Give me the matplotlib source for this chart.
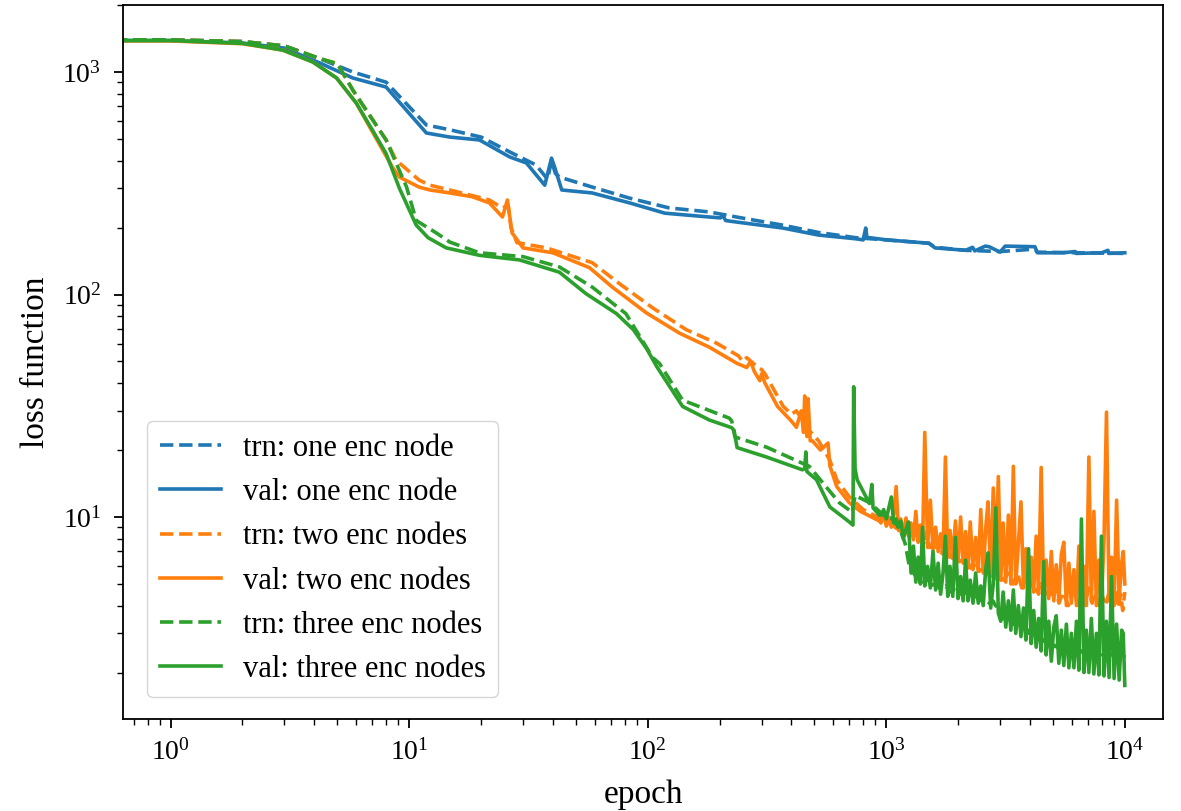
import numpy as np
import matplotlib
matplotlib.use("Agg")
import matplotlib.pyplot as plt

plt.rcParams['font.family'] = ['Liberation Serif', 'DejaVu Serif']
plt.rcParams['mathtext.fontset'] = 'custom'
plt.rcParams['mathtext.rm'] = 'Liberation Serif'
plt.rcParams['mathtext.it'] = 'Liberation Serif:italic'

# ---- loss curves, one enc node ----
ep_one_val = [0, 1, 2, 3, 4.2, 5.8, 8.0, 11.8, 14.8, 19.7, 26.4, 31, 37, 39.5, 40.7, 43.6,
              58.5, 84, 118, 181, 202, 206, 212, 241, 368, 520, 745, 800, 820, 830, 855,
              1000, 1510, 1600, 2150, 2300, 2350, 2600, 2700, 3000, 3150, 4200, 4300,
              5500, 6200, 6250, 8000, 8500, 8550, 10000]
loss_one_val = [1390, 1385, 1350, 1280, 1100, 940, 856, 532, 510, 495, 415, 390, 310, 410, 374, 295,
                286, 258, 232, 223, 221, 228, 215, 211, 199, 185, 178, 176, 199, 180, 180,
                176, 170, 162, 158, 163, 157, 165, 164, 155, 165, 164, 154,
                154, 156, 153, 154, 158, 153, 154]

ep_one_trn = [0, 1, 2, 3, 4.2, 5.8, 8.0, 11.8, 14.8, 20, 27, 34, 38, 39.5, 41, 42.7, 58.5,
              84, 123, 181, 241, 368, 520, 745, 1000, 1510, 1600, 2150, 3000, 4200, 4300, 10000]
loss_one_trn = [1400, 1395, 1370, 1310, 1150, 1000, 900, 578, 550, 510, 432, 382, 330, 400, 350, 337, 304,
                271, 245, 235, 222, 205, 190, 180, 176, 170, 163, 158, 156, 160, 155, 153]

# ---- loss curves, two enc nodes ----
ep_two_val = [0, 1, 2, 2.95, 3.94, 4.96, 6.0, 7.0, 8.5, 9.1, 11.0, 12.2, 14.8, 18.4, 21.7, 24.6,
              25.8, 27, 30, 40, 57, 71, 99, 136, 181, 237, 260, 270, 280, 295, 300, 310, 350,
              400, 420, 440, 450, 455, 465, 470, 480, 490, 530, 570, 580, 620, 700, 780, 935]
loss_two_val = [1390, 1380, 1340, 1255, 1110, 940, 725, 540, 374, 337, 304, 295, 286, 275, 258, 223,
                266, 189, 162, 154, 132, 108, 82.5, 67, 58, 49, 47, 50, 45, 41, 44, 40, 31.4,
                27, 25.3, 30, 24, 35, 23, 34, 22, 22, 20, 21.5, 17, 13.7, 11.6, 10.6, 9.6]

ep_two_trn = [0, 1, 2, 3, 4.2, 5.0, 5.8, 8.0, 8.8, 11.0, 12.2, 14.8, 21.7, 24.5, 26, 26.7, 28.3,
              37.6, 58.5, 76, 105, 145, 194, 240, 250, 260, 290, 300, 310, 370, 400, 420, 475,
              520, 580, 620, 700, 800, 935]
loss_two_trn = [1400, 1395, 1370, 1310, 1150, 1090, 830, 495, 402, 327, 310, 295, 266, 245, 250, 200, 171,
                162, 139, 112, 87, 69.5, 60.5, 53, 50, 52, 47, 46, 44, 31.4, 29, 30, 24.5,
                22, 18, 14.7, 12.3, 10.8, 9.9]

# ---- loss curves, three enc nodes ----
ep_three_val = [0, 1, 2, 2.95, 3.94, 4.96, 6.0, 7.0, 8.0, 9.1, 10.7, 12, 14.3, 19.7, 29, 42.6, 55,
                74, 87, 99, 109, 140, 181, 225, 230, 237, 315, 445, 455, 460, 465, 510, 580,
                700, 725, 730, 740, 755, 850, 870, 880, 935]
loss_three_val = [1390, 1385, 1345, 1255, 1110, 940, 725, 550, 430, 300, 205, 180, 162, 150, 143, 126, 101,
                  82, 69.5, 57, 47.5, 31.4, 27.3, 25.2, 24.5, 20.5, 18.6, 16.3, 16.5, 19.6, 16.0, 14.7, 11.1,
                  9.5, 9.2, 38.5, 16.5, 14.7, 11.5, 14.0, 11.0, 10.2]

ep_three_trn = [0, 1, 2, 3, 4.2, 5.0, 5.8, 8.0, 9.75, 10.7, 13.0, 14.8, 19.7, 30, 42.6, 58.5, 81,
                105, 112, 140, 220, 225, 232, 315, 475, 635, 720, 740, 850, 935]
loss_three_trn = [1400, 1395, 1370, 1310, 1150, 1090, 830, 495, 304, 215, 189, 172, 154, 148, 133, 108, 82,
                  52, 49, 33.5, 27.8, 27, 22.9, 20.6, 16.9, 11.6, 10.5, 12.5, 11.6, 10.6]

# ---- late, noisy stretch: training losses ----
ep_late = [950, 1000, 1050, 1100, 1110, 1150, 1200, 1250, 1300, 1350, 1400, 1450, 1480, 1520,
           1600, 1700, 1780, 1850, 1930, 2030, 2150, 2250, 2350, 2450, 2600, 2700, 2800, 2870,
           2950, 3100, 3250, 3400, 3550, 3700, 3850, 3960, 4100, 4300, 4450, 4600, 4800, 5000,
           5100, 5300, 5500, 5800, 6100, 6400, 6600, 6800, 7050, 7300, 7500, 7800, 8000, 8300,
           8600, 8800, 9150, 9400, 9600, 9800, 10000]

late_two_trn = [9.7, 9.3, 9.4, 8.9, 9.6, 8.6, 8.8, 8.2, 8.4, 7.8, 8.2, 7.5, 8.6, 7.3,
                7.4, 6.9, 7.6, 6.6, 7.0, 6.3, 6.6, 5.9, 6.4, 5.7, 6.0, 5.5, 6.4, 5.3,
                5.8, 5.2, 5.6, 5.0, 5.6, 4.8, 5.4, 4.7, 5.2, 4.6, 5.0, 4.4, 5.0, 4.3,
                4.8, 4.1, 4.6, 4.0, 4.7, 4.0, 4.5, 4.0, 4.8, 4.1, 4.6, 4.0, 4.5, 4.0,
                4.6, 4.1, 4.7, 3.9, 4.5, 3.8, 4.6]
late_three_trn = [10.4, 10.0, 9.9, 9.3, 9.2, 8.6, 7.6, 6.0, 5.6, 5.3, 5.4, 5.0, 5.3, 4.9,
                  5.0, 4.7, 4.9, 4.6, 4.7, 4.5, 4.6, 4.35, 4.5, 4.2, 4.3, 4.1, 4.2, 4.0,
                  3.9, 3.5, 3.6, 3.3, 3.4, 3.15, 3.2, 3.0, 3.05, 2.85, 2.9, 2.7, 2.75, 2.6,
                  2.65, 2.55, 2.6, 2.5, 2.55, 2.45, 2.5, 2.4, 2.5, 2.4, 2.45, 2.35, 2.45, 2.35,
                  2.5, 2.35, 2.4, 2.3, 2.45, 2.3, 2.4]

# ---- late, noisy stretch: validation losses (logged more densely) ----
ep_late_val = [950, 975, 1000, 1025, 1050, 1075, 1100, 1125, 1150, 1180,
               1210, 1240, 1270, 1300, 1330, 1360, 1390, 1420, 1450, 1490,
               1530, 1570, 1610, 1650, 1690, 1730, 1770, 1810, 1850, 1900,
               1950, 2000, 2050, 2100, 2150, 2200, 2250, 2310, 2370, 2430,
               2490, 2550, 2610, 2670, 2740, 2810, 2880, 2950, 3020, 3090,
               3170, 3250, 3330, 3410, 3490, 3580, 3670, 3760, 3850, 3950,
               4050, 4150, 4250, 4350, 4460, 4570, 4680, 4800, 4920, 5040,
               5160, 5290, 5420, 5550, 5690, 5830, 5970, 6120, 6270, 6420,
               6580, 6740, 6900, 7070, 7240, 7420, 7600, 7790, 7980, 8180,
               8380, 8590, 8800, 9020, 9240, 9470, 9700, 9850, 10000]

late_two_val = [9.4, 10.4, 9.1, 10.0, 9.0, 10.2, 13.7, 8.7, 9.8, 8.4,
                9.9, 8.2, 9.4, 7.9, 10.6, 7.7, 9.2, 7.5, 24.0, 7.3,
                11.9, 7.1, 9.0, 7.0, 8.4, 6.8, 18.6, 6.6, 8.7, 6.5,
                9.6, 6.3, 10.0, 6.2, 8.6, 5.9, 9.5, 5.8, 8.1, 5.7,
                10.8, 5.6, 8.8, 11.7, 5.4, 13.5, 6.5, 15.2, 5.2, 9.4,
                5.1, 10.2, 5.0, 16.9, 5.0, 7.6, 11.7, 4.8, 7.2, 4.7,
                6.6, 4.6, 8.2, 4.5, 16.7, 4.4, 6.4, 4.3, 7.0, 4.2,
                6.1, 4.2, 6.8, 7.7, 4.0, 6.2, 4.1, 5.8, 4.0, 7.4,
                4.1, 6.0, 4.0, 18.6, 4.2, 10.6, 4.0, 6.4, 4.1, 7.8,
                29.6, 4.2, 6.6, 4.0, 11.9, 4.3, 6.2, 7.0, 5.0]

late_three_val = [10.2, 10.8, 9.8, 11.0, 12.3, 9.4, 9.8, 9.0, 9.6, 8.0,
                  8.8, 9.5, 5.6, 7.4, 5.1, 6.6, 5.0, 9.0, 4.9, 6.0,
                  4.8, 7.0, 4.7, 6.2, 4.5, 5.6, 8.2, 4.4, 6.0, 4.4,
                  8.1, 4.3, 5.4, 4.2, 6.4, 4.2, 5.2, 4.1, 5.6, 4.1,
                  4.9, 4.0, 5.8, 6.9, 3.9, 5.0, 11.0, 3.7, 3.4, 4.6,
                  3.2, 4.2, 3.1, 4.7, 3.0, 4.0, 2.9, 3.9, 2.8, 7.2,
                  2.7, 3.8, 2.6, 3.5, 2.5, 6.3, 2.4, 3.4, 2.25, 3.2,
                  3.6, 2.2, 3.1, 2.15, 3.3, 2.1, 3.0, 2.1, 3.4, 2.05,
                  9.8, 2.0, 3.1, 2.0, 3.5, 1.97, 3.0, 1.95, 8.2, 1.93,
                  3.4, 1.9, 5.4, 1.88, 3.3, 1.85, 3.1, 3.0, 1.75]

blue, orange, green = '#1f77b4', '#ff7f0e', '#2ca02c'
lw = 2.6

fig = plt.figure(figsize=(11.81, 8.11), dpi=100)
ax = fig.add_axes([0.104, 0.1134, 0.881, 0.8804])
ax.set_xscale('log', nonpositive='clip')
ax.set_yscale('log')

ax.plot(ep_one_trn, loss_one_trn, '--', color=blue, lw=lw, label='trn: one enc node')
ax.plot(ep_one_val, loss_one_val, '-', color=blue, lw=lw, label='val: one enc node')
ax.plot(ep_two_trn + ep_late, loss_two_trn + late_two_trn, '--', color=orange, lw=lw,
        label='trn: two enc nodes')
ax.plot(ep_two_val + ep_late_val, loss_two_val + late_two_val, '-', color=orange, lw=lw,
        label='val: two enc nodes')
ax.plot(ep_three_trn + ep_late, loss_three_trn + late_three_trn, '--', color=green, lw=lw,
        label='trn: three enc nodes')
ax.plot(ep_three_val + ep_late_val, loss_three_val + late_three_val, '-', color=green, lw=lw,
        label='val: three enc nodes')

ax.set_xlim(0.63, 14500)
ax.set_ylim(1.236, 2000)

for s in ax.spines.values():
    s.set_linewidth(1.3)
ax.tick_params(which='major', length=6.5, width=1.3, labelsize=20)
ax.tick_params(which='minor', length=4, width=1.0)
ax.tick_params(axis='x', which='major', pad=8)
ax.tick_params(axis='y', which='major', pad=9)

ax.set_xlabel('epoch', fontsize=24, labelpad=10)
ax.set_ylabel('loss function', fontsize=24, labelpad=8)

ax.legend(loc='lower left', bbox_to_anchor=(0.023, 0.031), borderaxespad=0,
          fontsize=22, handlelength=2.0, handletextpad=0.72, labelspacing=0.5,
          borderpad=0.42)

fig.savefig('out.png', dpi=100)
